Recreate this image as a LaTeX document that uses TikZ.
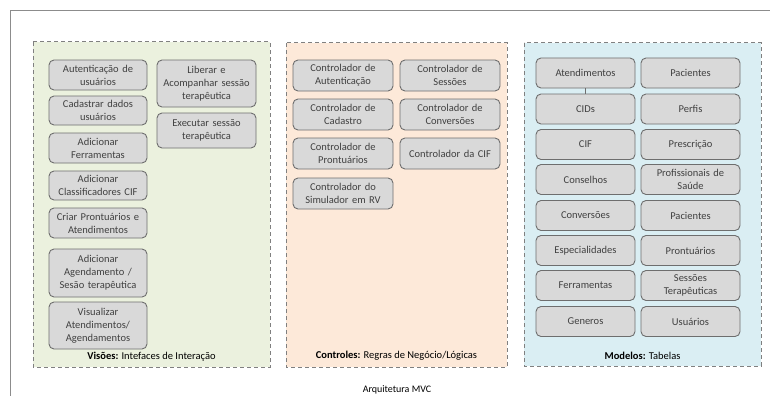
\documentclass[tikz,border=0pt]{standalone}
\usepackage{fontspec}
\setmainfont{Carlito}
\definecolor{vgreen}{HTML}{EBF1DE}
\definecolor{corange}{HTML}{FDE9D9}
\definecolor{mblue}{HTML}{DAEEF3}
\definecolor{boxfill}{HTML}{D9D9D9}
\definecolor{boxline}{HTML}{6E6E6E}
\definecolor{dashline}{HTML}{808080}
\definecolor{framecol}{HTML}{8C8C8C}
\definecolor{txt}{HTML}{404040}
\begin{document}
\begin{tikzpicture}[x=1pt,y=-1pt,
  panel/.style={draw=dashline,dashed,line width=1pt,dash pattern=on 4pt off 3pt},
  item/.style={draw=boxline,fill=boxfill,rounded corners=5pt,line width=0.9pt,
    inner sep=0pt,align=center,text=txt,font=\fontsize{10.5}{13}\selectfont},
  gl/.style={item,minimum width=98pt,text width=97pt},
  ol/.style={item,minimum width=100pt,text width=99pt},
  bl/.style={item,minimum width=99pt,text width=98pt,minimum height=30pt},
  plabel/.style={font=\fontsize{10.5}{12}\selectfont,text=black,inner sep=0pt}]
\useasboundingbox (0,0) rectangle (770,396);
\fill[white] (0,0) rectangle (770,396);
\draw[framecol,line width=1pt] (770,11) -- (10,11) -- (10,396);
% panels
\draw[panel,fill=vgreen] (33,42) rectangle (270,367);
\draw[panel,fill=corange] (286,43) rectangle (507,367);
\draw[panel,fill=mblue] (524,43) rectangle (761,366);
% Visoes
\node[gl,minimum height=30pt] (v1) at (98,75) {Autenticação de\\usuários};
\node[gl,minimum height=29pt] (v2) at (98,110.5) {Cadastrar dados\\usuários};
\node[gl,minimum height=30pt] (v3) at (98,148) {Adicionar\\Ferramentas};
\node[gl,minimum height=29pt] (v4) at (98,185.5) {Adicionar\\Classificadores CIF};
\node[gl,minimum height=30pt] (v5) at (98,223) {Criar Prontuários e\\Atendimentos};
\node[gl,minimum height=48pt] (v6) at (98,273) {Adicionar\\Agendamento /\\Sesão terapêutica};
\node[gl,minimum height=47pt] (v7) at (98,325.5) {Visualizar\\Atendimentos/\\Agendamentos};
\node[gl,minimum width=99pt,minimum height=47pt] (v8) at (206.5,83.5) {Liberar e\\Acompanhar sessão\\terapêutica};
\node[gl,minimum width=99pt,minimum height=35pt] (v9) at (206.5,130.5) {Executar sessão\\terapêutica};
\node[plabel] (vl) at (151.5,357) {\textbf{Visões:} Intefaces de Interação};
% Controles
\node[ol,minimum height=31pt] (c1) at (343,75.5) {Controlador de\\Autenticação};
\node[ol,minimum height=31pt] (c2) at (343,114.5) {Controlador de\\Cadastro};
\node[ol,minimum height=31pt] (c3) at (343,153.5) {Controlador de\\Prontuários};
\node[ol,minimum height=31pt] (c4) at (343,193.5) {Controlador do\\Simulador em RV};
\node[ol,minimum height=31pt] (c5) at (450,75.5) {Controlador de\\Sessões};
\node[ol,minimum height=31pt] (c6) at (450,114.5) {Controlador de\\Conversões};
\node[ol,minimum height=31pt] (c7) at (450,153.5) {Controlador da CIF};
\node[plabel] (cl) at (396.5,356) {\textbf{Controles:} Regras de Negócio/Lógicas};
% Modelos
\node[bl] (m1) at (585.5,73) {Atendimentos};
\node[bl] (m2) at (585.5,109) {CIDs};
\node[bl] (m3) at (585.5,144.5) {CIF};
\node[bl] (m4) at (585.5,179.5) {Conselhos};
\node[bl] (m5) at (585.5,215.5) {Conversões};
\node[bl] (m6) at (585.5,250.5) {Especialidades};
\node[bl] (m7) at (585.5,285.5) {Ferramentas};
\node[bl] (m8) at (585.5,321.5) {Generos};
\node[bl] (n1) at (690.5,73) {Pacientes};
\node[bl] (n2) at (690.5,109) {Perfis};
\node[bl] (n3) at (690.5,144.5) {Prescrição};
\node[bl] (n4) at (690.5,179.5) {Profissionais de\\Saúde};
\node[bl] (n5) at (690.5,215.5) {Pacientes};
\node[bl] (n6) at (690.5,250.5) {Prontuários};
\node[bl] (n7) at (690.5,285.5) {Sessões\\Terapêuticas};
\node[bl] (n8) at (690.5,321.5) {Usuários};
\node[plabel] (ml) at (642.5,356) {\textbf{Modelos:} Tabelas};
\draw[boxline,line width=0.8pt] (m1.south) -- (m2.north);
% caption
\node[font=\fontsize{10}{12}\selectfont,text=black,inner sep=0pt,anchor=base] (cap) at (397,392.5) {Arquitetura MVC};
\end{tikzpicture}
\end{document}
